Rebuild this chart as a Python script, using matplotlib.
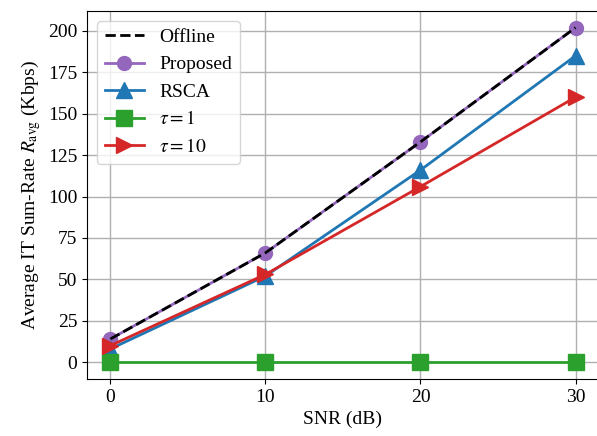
import numpy as np
import matplotlib
matplotlib.use('Agg')
import matplotlib.pyplot as plt

snr = [0, 10, 20, 30]
offline = [14, 66, 133, 202]
proposed = [14, 66, 133, 202]
rsca = [8, 52, 116, 185]
tau1 = [0, 0, 0, 0]
tau10 = [10, 53, 106, 160]

plt.rcParams['font.family'] = 'serif'
plt.rcParams['font.serif'] = ['Liberation Serif', 'DejaVu Serif']
plt.rcParams['mathtext.fontset'] = 'stix'
plt.rcParams['font.size'] = 14

fig, ax = plt.subplots(figsize=(5.97, 4.36), dpi=100)
l_off, = ax.plot(snr, offline, 'k--', lw=2, zorder=5, label='Offline')
l_pro, = ax.plot(snr, proposed, '-o', color='tab:purple', lw=2, ms=10, label='Proposed')
l_rs, = ax.plot(snr, rsca, '-^', color='tab:blue', lw=2, ms=12, label='RSCA')
l_t1, = ax.plot(snr, tau1, '-s', color='tab:green', lw=2, ms=12, label=r'$\tau=1$')
l_t10, = ax.plot(snr, tau10, '->', color='tab:red', lw=2, ms=12, label=r'$\tau=10$')

ax.set_xticks(snr)
ax.set_yticks(np.arange(0, 201, 25))
ax.set_xlabel('SNR (dB)')
ax.set_ylabel(r'Average IT Sum-Rate $R_{\mathrm{avg}}$ (Kbps)')
ax.grid(True, color='#b0b0b0', lw=1)
ax.legend(handles=[l_off, l_pro, l_rs, l_t1, l_t10], loc='upper left', fontsize=14)
fig.subplots_adjust(left=0.146, right=1.003, top=0.975, bottom=0.131)
fig.savefig('out.png')
